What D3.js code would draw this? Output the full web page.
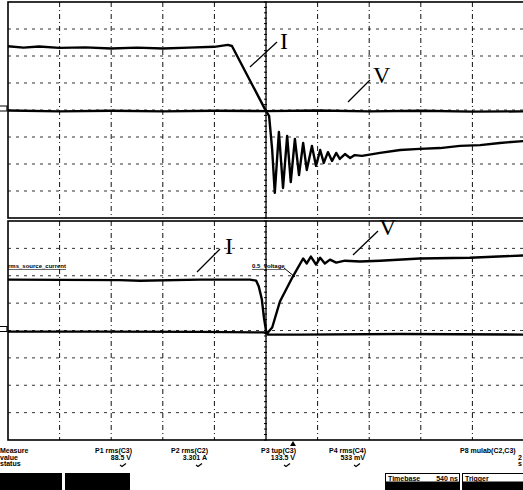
<!DOCTYPE html>
<html>
<head>
<meta charset="utf-8">
<script src="https://cdn.jsdelivr.net/npm/d3@7"></script>
<style>
    body { margin: 0; background: #fff; }
    svg { display: block; }
    .stat { font-family: "Liberation Sans", Arial, sans-serif; font-size: 7px; font-weight: bold; fill: #000; }
    .tag { font-family: "Liberation Serif", "Times New Roman", serif; font-size: 24px; fill: #000; }
</style>
</head>
<body>
<div id="scope"></div>
<script>
// grid divisions (10 horizontal x 8 vertical)
var divX = [0, 1, 2, 3, 4, 5, 6, 7, 8, 9, 10];
var divY = [-4, -3, -2, -1, 0, 1, 2, 3, 4];

// upper screen: current, falling then ringing (time in div, level in div)
var topCurrent = [[0, 2.36], [0.3, 2.31], [0.6, 2.35], [1, 2.30], [1.5, 2.32], [2, 2.28], [2.5, 2.31],
    [3, 2.28], [3.5, 2.31], [4, 2.34], [4.26, 2.41], [4.34, 2.37], [5.0, -0.04], [5.06, -0.22],
    [5.12, -1.48], [5.17, -3.07], [5.25, -0.81], [5.33, -2.89], [5.41, -0.96], [5.48, -2.67],
    [5.56, -1.07], [5.64, -2.41], [5.72, -1.22], [5.79, -2.22], [5.89, -1.33], [5.97, -2.07],
    [6.05, -1.48], [6.12, -1.96], [6.20, -1.56], [6.28, -1.89], [6.36, -1.59], [6.43, -1.81],
    [6.53, -1.63], [6.63, -1.78], [6.72, -1.67], [6.86, -1.70], [7.21, -1.59], [7.60, -1.48],
    [7.98, -1.44], [8.37, -1.41], [8.76, -1.33], [9.15, -1.30], [9.53, -1.22], [10, -1.15]];
// upper screen: voltage stays at zero
var topVoltage = [[0, -0.02], [1, -0.05], [2, -0.03], [3, -0.05], [4, -0.03], [5, -0.04],
    [6, -0.02], [7, -0.05], [8, -0.03], [9, -0.06], [10, -0.05]];

// lower screen: current drops to zero, voltage rises with small overshoot
var botCurrent = [[0, 1.86], [1.01, 1.85], [2.17, 1.84], [2.56, 1.82], [3.72, 1.86], [4.69, 1.86],
    [4.81, 1.82], [4.86, 1.61], [4.92, 1.13], [4.96, 0.47], [5.0, 0], [5.04, -0.15],
    [5.66, -0.15], [7.60, -0.13], [10, -0.15]];
var botVoltage = [[0, -0.04], [1.78, -0.04], [3.72, -0.05], [4.96, -0.07], [5.02, -0.11],
    [5.12, 0.11], [5.27, 1.06], [5.52, 1.97], [5.72, 2.63], [5.79, 2.45], [5.87, 2.70],
    [5.97, 2.41], [6.05, 2.66], [6.14, 2.45], [6.24, 2.59], [6.36, 2.48], [6.53, 2.55],
    [6.82, 2.52], [7.21, 2.55], [7.98, 2.63], [8.95, 2.66], [10, 2.74]];

// measurement readout
var measNames = ["P1 rms(C3)", "P2 rms(C2)", "P3 tup(C3)", "P4 rms(C4)"];
var measValues = ["88.5 V", "3.301 A", "133.5 V", "533 mV"];
var rowLabels = ["Measure", "value", "status"];
var timebase = "540 ns";

var width = 523, height = 490;
var svg = d3.select("#scope")
    .append("svg")
    .attr("width", width)
    .attr("height", height);

var x = d3.scaleLinear().domain([0, 10]).range([8, 524]);
var yTop = d3.scaleLinear().domain([-4, 4]).range([218, 2]);
var yBot = d3.scaleLinear().domain([-4, 4]).range([440, 221]);

function drawScreen(y, current, voltage) {
    var g = svg.append("g");
    // horizontal dotted grid
    g.selectAll(".hgrid")
        .data(divY.slice(1, -1))
        .enter().append("line")
        .attr("x1", x(0)).attr("x2", x(10))
        .attr("y1", function (d) { return y(d); })
        .attr("y2", function (d) { return y(d); })
        .attr("stroke", "#333")
        .attr("stroke-width", 1)
        .attr("stroke-dasharray", "3,5");
    // vertical dashed grid
    g.selectAll(".vgrid")
        .data(divX.slice(1, -1))
        .enter().append("line")
        .attr("x1", function (d) { return x(d); })
        .attr("x2", function (d) { return x(d); })
        .attr("y1", y(4)).attr("y2", y(-4))
        .attr("stroke", "#111")
        .attr("stroke-width", function (d) { return d === 5 ? 1.4 : 1; })
        .attr("stroke-dasharray", function (d) { return d === 5 ? null : "5,3,1,3"; });
    // minor ticks on the centre line
    g.selectAll(".tick")
        .data(d3.range(-4, 4.01, 0.2))
        .enter().append("line")
        .attr("x1", x(5) - 2).attr("x2", x(5) + 1)
        .attr("y1", function (d) { return y(d); })
        .attr("y2", function (d) { return y(d); })
        .attr("stroke", "#000");
    // frame
    g.append("rect")
        .attr("x", x(0)).attr("y", y(4))
        .attr("width", x(10) - x(0) + 4)
        .attr("height", y(-4) - y(4))
        .attr("fill", "none")
        .attr("stroke", "#000")
        .attr("stroke-width", 1.6);
    // ground marker on the left
    g.append("path")
        .attr("d", "M0," + (y(0) - 4) + "H7V" + (y(0) + 1) + "H0")
        .attr("fill", "none")
        .attr("stroke", "#000")
        .attr("stroke-width", 1.2);

    var line = d3.line()
        .x(function (d) { return x(d[0]); })
        .y(function (d) { return y(d[1]); });
    [voltage, current].forEach(function (s) {
        g.append("path")
            .attr("d", line(s))
            .attr("fill", "none")
            .attr("stroke", "#000")
            .attr("stroke-width", 2.4)
            .attr("stroke-linejoin", "round");
    });
    return g;
}

drawScreen(yTop, topCurrent, topVoltage);
drawScreen(yBot, botCurrent, botVoltage);

// trace labels with leader lines
function tag(txt, tx, ty, x1, y1, x2, y2) {
    svg.append("line")
        .attr("x1", x1).attr("y1", y1).attr("x2", x2).attr("y2", y2)
        .attr("stroke", "#000").attr("stroke-width", 1.3);
    svg.append("text").attr("class", "tag")
        .attr("x", tx).attr("y", ty).text(txt);
}
tag("I", 280, 49, 250, 67, 277, 42);
tag("V", 373, 83, 348, 102, 370, 80);
tag("I", 225, 254, 197, 272, 220, 249);
tag("V", 379, 235, 353, 255, 378, 231);

// small channel captions in lower screen
svg.append("text").attr("class", "stat")
    .attr("x", 8).attr("y", 268)
    .style("font-size", "6px")
    .style("text-decoration", "underline")
    .text("rms_source_current");
svg.append("text").attr("class", "stat")
    .attr("x", 252).attr("y", 268)
    .style("font-size", "6px")
    .style("text-decoration", "underline")
    .text("0.5_voltage");
svg.append("line")
    .attr("x1", 284).attr("y1", 268).attr("x2", 295).attr("y2", 277)
    .attr("stroke", "#000").attr("stroke-width", 1);

// trigger marker
svg.append("path")
    .attr("d", "M290,446L293,441L296,446Z")
    .attr("fill", "#000");

// readout block
var rowY = [453, 459.5, 466];
svg.selectAll(".rowlab")
    .data(rowLabels)
    .enter().append("text")
    .attr("class", "stat")
    .attr("x", 0)
    .attr("y", function (d, i) { return rowY[i]; })
    .text(function (d) { return d; });

var colRight = [132, 208, 296, 366];
measNames.forEach(function (n, i) {
    svg.append("text").attr("class", "stat")
        .attr("x", colRight[i]).attr("y", rowY[0])
        .attr("text-anchor", "end").text(n);
    svg.append("text").attr("class", "stat")
        .attr("x", colRight[i] - 1).attr("y", rowY[1])
        .attr("text-anchor", "end").text(measValues[i]);
    // status tick
    svg.append("path")
        .attr("d", "M" + (colRight[i] - 12) + ",465l2,1.5l4,-3")
        .attr("fill", "none").attr("stroke", "#000").attr("stroke-width", 1.2);
});
svg.append("text").attr("class", "stat")
    .attr("x", 460).attr("y", rowY[0]).text("P8 mulab(C2,C3)");
svg.append("text").attr("class", "stat")
    .attr("x", 518).attr("y", rowY[1]).text("2");
svg.append("text").attr("class", "stat")
    .attr("x", 518).attr("y", rowY[2]).text("s");

// black soft-key boxes
[[0, 62], [65, 130]].forEach(function (b) {
    svg.append("rect")
        .attr("x", b[0]).attr("y", 473)
        .attr("width", b[1] - b[0]).attr("height", 17)
        .attr("fill", "#000");
});
// timebase and trigger panels
function panel(x0, x1, title, value) {
    svg.append("rect")
        .attr("x", x0).attr("y", 473)
        .attr("width", x1 - x0).attr("height", 17)
        .attr("fill", "#000");
    svg.append("rect")
        .attr("x", x0 + 1).attr("y", 474)
        .attr("width", x1 - x0 - 2).attr("height", 7.5)
        .attr("fill", "#fff");
    svg.append("text").attr("class", "stat")
        .attr("x", x0 + 3).attr("y", 480.5).text(title);
    if (value) {
        svg.append("text").attr("class", "stat")
            .attr("x", x1 - 2).attr("y", 480.5)
            .attr("text-anchor", "end").text(value);
    }
}
panel(385, 460, "Timebase", timebase);
panel(462, 524, "Trigger", null);
</script>
</body>
</html>
